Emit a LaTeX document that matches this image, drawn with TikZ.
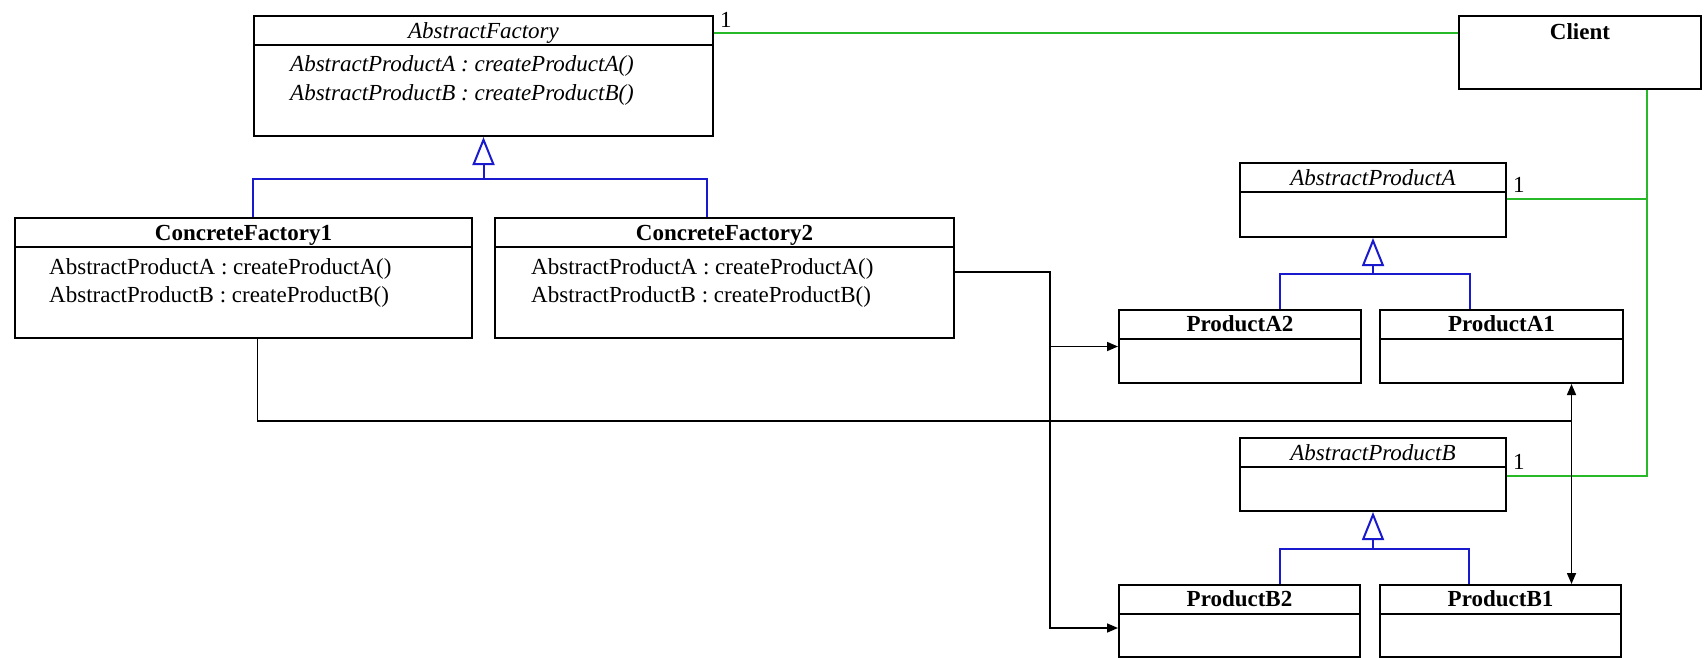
\documentclass[tikz,border=0pt]{standalone}
\usepackage{fontspec}
\setmainfont{Liberation Serif}
\usetikzlibrary{positioning,calc,arrows.meta}
\definecolor{assocgreen}{RGB}{40,185,40}
\definecolor{genblue}{RGB}{25,25,205}

\begin{document}
\begin{tikzpicture}[x=1pt,y=-1pt,
  font=\fontsize{23}{29}\selectfont,
  classbox/.style={draw, line width=2pt, anchor=north west, inner sep=0pt},
  divider/.style={line width=1.5pt},
  ctitle/.style={anchor=base, inner sep=0pt, font=\fontsize{23}{29}\selectfont\bfseries},
  atitle/.style={anchor=base, inner sep=0pt, font=\fontsize{23}{29}\selectfont\itshape},
  ops/.style={anchor=base west, inner sep=0pt},
  aops/.style={ops, font=\fontsize{23}{29}\selectfont\itshape},
  mult/.style={anchor=base west, inner sep=0pt},
  assoc/.style={draw=assocgreen, line width=2pt},
  gen/.style={draw=genblue, line width=2pt},
  inherit/.style={gen, -{Triangle[open, length=28pt, width=22pt]}},
  dep/.style={line width=1.6pt, -{Triangle[length=11pt, width=9pt]}}
  ]
  \fill[white] (0,0) rectangle (1704,657);
  \useasboundingbox (0,0) rectangle (1704,657);

  % class boxes
  \node[classbox, minimum width=459pt, minimum height=120pt] (af) at (253,15) {};
  \node[classbox, minimum width=457pt, minimum height=120pt] (cf1) at (14,217) {};
  \node[classbox, minimum width=459pt, minimum height=120pt] (cf2) at (494,217) {};
  \node[classbox, minimum width=242pt, minimum height=73pt] (client) at (1458,15) {};
  \node[classbox, minimum width=266pt, minimum height=74pt] (apa) at (1239,162) {};
  \node[classbox, minimum width=242pt, minimum height=73pt] (pa2) at (1118,309) {};
  \node[classbox, minimum width=243pt, minimum height=73pt] (pa1) at (1379,309) {};
  \node[classbox, minimum width=266pt, minimum height=73pt] (apb) at (1239,437) {};
  \node[classbox, minimum width=241pt, minimum height=72pt] (pb2) at (1118,584) {};
  \node[classbox, minimum width=241pt, minimum height=72pt] (pb1) at (1379,584) {};

  \foreach \c in {af,cf1,cf2,apa,pa2,pa1,apb,pb2,pb1}
    \draw[divider] ($(\c.north west)+(0,30)$) -- ($(\c.north east)+(0,30)$);

  % names
  \node[atitle] (aft) at ($(af.north)+(0,23)$) {AbstractFactory};
  \node[ctitle] (cf1t) at ($(cf1.north)+(0,23)$) {ConcreteFactory1};
  \node[ctitle] (cf2t) at ($(cf2.north)+(0,23)$) {ConcreteFactory2};
  \node[ctitle] (clientt) at ($(client.north)+(0,24)$) {Client};
  \node[atitle] (apat) at ($(apa.north)+(0,23)$) {AbstractProductA};
  \node[ctitle] (pa2t) at ($(pa2.north)+(0,22)$) {ProductA2};
  \node[ctitle] (pa1t) at ($(pa1.north)+(0,22)$) {ProductA1};
  \node[atitle] (apbt) at ($(apb.north)+(0,23)$) {AbstractProductB};
  \node[ctitle] (pb2t) at ($(pb2.north)+(0,22)$) {ProductB2};
  \node[ctitle] (pb1t) at ($(pb1.north)+(0,22)$) {ProductB1};

  % operations
  \node[aops] (afm1) at ($(af.north west)+(37,56)$) {AbstractProductA : createProductA()};
  \node[aops] (afm2) at ($(af.north west)+(37,85)$) {AbstractProductB : createProductB()};
  \node[ops] (cf1m1) at ($(cf1.north west)+(35,57)$) {AbstractProductA : createProductA()};
  \node[ops] (cf1m2) at ($(cf1.north west)+(35,85)$) {AbstractProductB : createProductB()};
  \node[ops] (cf2m1) at ($(cf2.north west)+(37,57)$) {AbstractProductA : createProductA()};
  \node[ops] (cf2m2) at ($(cf2.north west)+(37,85)$) {AbstractProductB : createProductB()};

  % client associations
  \coordinate (afc) at ($(af.north east)+(0,18)$);
  \coordinate (apaj) at ($(apa.north east)+(0,37)$);
  \coordinate (apbj) at ($(apb.north east)+(0,39)$);
  \coordinate (cb) at ($(client.south west)+(189,0)$);
  \draw[assoc] (afc) -- (afc -| client.west);
  \draw[assoc] (cb) |- (apbj);
  \draw[assoc] (cb |- apaj) -- (apaj);
  \node[mult] (afn) at ($(afc)+(6,-6)$) {1};
  \node[mult] (apan) at ($(apaj)+(6,-7)$) {1};
  \node[mult] (apbn) at ($(apbj)+(6,-7)$) {1};

  % generalisation
  \coordinate (afj) at ($(af.south)+(0,42)$);
  \draw[gen] (cf1.north -| af.west) |- (afj) -| ($(cf2.north -| af.east)+(-7,0)$);
  \draw[inherit] (afj) -- (af.south);

  \coordinate (apaq) at ($(apa.south)+(0,36)$);
  \draw[gen] ($(pa2.north)+(40,0)$) |- (apaq) -| ($(pa1.north)+(-32,0)$);
  \draw[inherit] (apaq) -- (apa.south);

  \coordinate (apbq) at ($(apb.south)+(0,37)$);
  \draw[gen] ($(pb2.north)+(40,0)$) |- (apbq) -| ($(pb1.north)+(-32,0)$);
  \draw[inherit] (apbq) -- (apb.south);

  % factories create products
  \coordinate (cfj) at ($(pa1.south)+(70,37)$);
  \draw[dep] ($(cf1.south)+(14,0)$) |- (cfj) -- (cfj |- pa1.south);
  \draw[dep] (cfj) -- (cfj |- pb1.north);

  \coordinate (c2) at ($(cf2.north east)+(0,55)$);
  \draw[dep] (c2) -| ($(pa2.west)+(-68,0)$) -- (pa2.west);
  \draw[dep] (c2) -| ($(pb2.west)+(-68,7)$) -- ($(pb2.west)+(0,7)$);
\end{tikzpicture}
\end{document}
